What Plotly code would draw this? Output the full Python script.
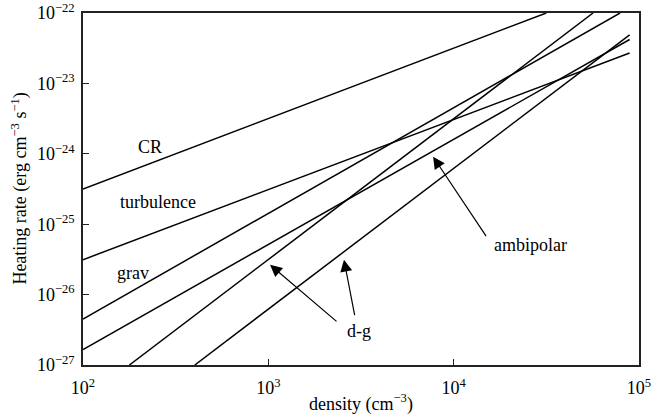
import plotly.graph_objects as go

# Data (density in cm^-3, heating rate in erg cm^-3 s^-1)
cr_density = [1e2, 3.16e4]
cr_rate = [3.16e-25, 1e-22]

turb_density = [1e2, 8.9e4]
turb_rate = [3.13e-26, 2.7e-23]

grav_density = [1e2, 7.9e4]
grav_rate = [4.5e-27, 1e-22]

ambi_density = [1e2, 8.9e4]
ambi_rate = [1.66e-27, 4.2e-23]

dg1_density = [178, 5.65e4]
dg1_rate = [1e-27, 1e-22]

dg2_density = [401, 8.9e4]
dg2_rate = [1e-27, 4.9e-23]

x_tickvals = [1e2, 1e3, 1e4, 1e5]
x_ticktext = ["10<sup>2</sup>", "10<sup>3</sup>", "10<sup>4</sup>", "10<sup>5</sup>"]
y_tickvals = [1e-27, 1e-26, 1e-25, 1e-24, 1e-23, 1e-22]
y_ticktext = ["10<sup>−27</sup>", "10<sup>−26</sup>", "10<sup>−25</sup>",
              "10<sup>−24</sup>", "10<sup>−23</sup>", "10<sup>−22</sup>"]

FONT = "Liberation Serif, Times New Roman, serif"
series = [
    (cr_density, cr_rate, "CR"),
    (turb_density, turb_rate, "turbulence"),
    (grav_density, grav_rate, "grav"),
    (ambi_density, ambi_rate, "ambipolar"),
    (dg1_density, dg1_rate, "d-g 1"),
    (dg2_density, dg2_rate, "d-g 2"),
]

fig = go.Figure()
for xs, ys, name in series:
    fig.add_trace(go.Scatter(x=xs, y=ys, mode="lines", name=name,
                             line=dict(color="black", width=1.5),
                             showlegend=False, hoverinfo="skip"))

# text labels (positions in log10 data units)
labels = [
    ("CR", 2.36, -23.91),
    ("turbulence", 2.404, -24.683),
    ("grav", 2.269, -25.688),
    ("ambipolar", 4.413, -25.291),
    ("d-g", 3.489, -26.513),
]
for txt, lx, ly in labels:
    fig.add_annotation(x=lx, y=ly, text=txt, showarrow=False,
                       font=dict(family=FONT, size=18, color="black"))

# arrows: (tip x, tip y in log10 data units, tail offset in px)
arrows = [
    (3.009, -25.575, 68, 58),
    (3.408, -25.504, 11, 57),
    (3.889, -24.041, 54, 81),
]
for tx, ty, axo, ayo in arrows:
    fig.add_annotation(x=tx, y=ty, ax=axo, ay=ayo, text="", showarrow=True,
                       arrowhead=2, arrowsize=2.0, arrowwidth=1.2,
                       arrowcolor="black")

axis_common = dict(
    type="log", showgrid=False, zeroline=False, automargin=False,
    showline=True, linecolor="#222", linewidth=1.5, mirror=True,
    ticks="inside", ticklen=6, tickcolor="#222", tickwidth=1.2,
    tickfont=dict(family=FONT, size=18, color="black"),
)

fig.update_xaxes(range=[2, 5], tickvals=x_tickvals, ticktext=x_ticktext,
                 ticklabelstandoff=6, **axis_common)
fig.update_yaxes(range=[-27, -22], tickvals=y_tickvals, ticktext=y_ticktext,
                 ticklabelstandoff=3, **axis_common)

# axis titles as paper annotations
fig.add_annotation(xref="paper", yref="paper", x=0.5, y=-0.108,
                   text="density (cm<sup>−3</sup>)", showarrow=False,
                   yanchor="middle",
                   font=dict(family=FONT, size=18, color="black"))
fig.add_annotation(xref="paper", yref="paper", x=-0.114, y=0.5,
                   text="Heating rate (erg cm<sup>−3</sup> s<sup>−1</sup>)",
                   showarrow=False, textangle=-90, xanchor="center",
                   font=dict(family=FONT, size=18, color="black"))

fig.update_layout(
    width=653, height=414,
    margin=dict(l=83, r=14, t=13, b=49),
    plot_bgcolor="white", paper_bgcolor="white",
    font=dict(family=FONT, color="black"),
)

fig.write_html("out.html",
               config={"displayModeBar": False},
               post_script="document.body.style.margin='0';"
                           "document.body.style.overflow='hidden';")
